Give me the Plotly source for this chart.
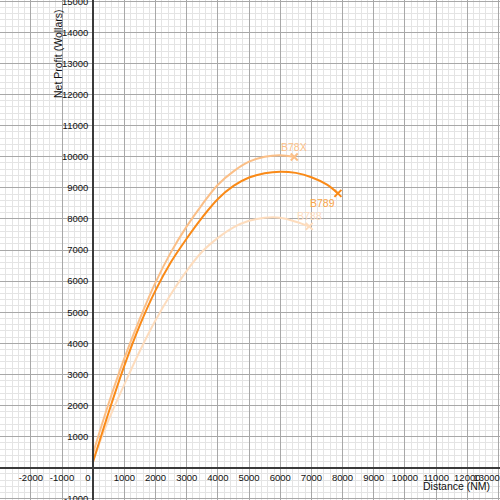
import plotly.graph_objects as go

# Distance (NM) and net profit (Wollars)
b789_x = [0, 500, 1000, 1500, 2000, 2500, 3000, 3500, 4000, 4500, 5000, 5500, 6000, 6500, 7000, 7500, 7850]
b789_y = [200, 1790, 3280, 4590, 5700, 6620, 7370, 8050, 8640, 9060, 9330, 9470, 9520, 9480, 9340, 9100, 8820]

b78x_x = [0, 500, 1000, 1500, 2000, 2500, 3000, 3500, 4000, 4500, 5000, 5500, 6000, 6450]
b78x_y = [480, 2080, 3520, 4800, 5960, 6940, 7760, 8470, 9100, 9530, 9840, 10000, 10050, 9990]

b788_x = [0, 500, 1000, 1500, 2000, 2500, 3000, 3500, 4000, 4500, 5000, 5500, 6000, 6500, 6930]
b788_y = [250, 1550, 2680, 3760, 4740, 5590, 6330, 6950, 7390, 7730, 7940, 8040, 8040, 7910, 7760]

series_names = ["B78X", "B789", "B788"]

NB = "\u00a0"
x_tick_vals = [-2000, -1000, 0, 1000, 2000, 3000, 4000, 5000, 6000, 7000, 8000, 9000, 10000, 11000, 12000, 13000]
x_tick_text = ["-2000", "-1000", "0" + NB * 4, "1000", "2000", "3000", "4000", "5000", "6000",
               "7000", "8000", "9000", "10000", "11000", "12000", "13000" + NB * 9]
y_tick_vals = [-1000, 1000, 2000, 3000, 4000, 5000, 6000, 7000, 8000, 9000, 10000,
               11000, 12000, 13000, 14000, 15000]
y_tick_text = [str(v) for v in y_tick_vals]

x_range = [-2990, 13050]
y_range = [-1040, 15040]

colors = {"B78X": "#FBBF87", "B789": "#FA8A17", "B788": "#FDDCBD"}
label_colors = {"B78X": "#FBBF87", "B789": "#F9A449", "B788": "#FDDCBD"}

data = {"B78X": (b78x_x, b78x_y), "B789": (b789_x, b789_y), "B788": (b788_x, b788_y)}

fig = go.Figure()
for name in ["B788", "B78X", "B789"]:
    xs, ys = data[name]
    fig.add_trace(go.Scatter(x=xs, y=ys, mode="lines", name=name,
                             line=dict(color=colors[name], width=2, shape="spline", smoothing=1.0),
                             hoverinfo="skip"))
    fig.add_trace(go.Scatter(x=[xs[-1]], y=[ys[-1]], mode="markers", name=name,
                             marker=dict(symbol="x-thin", size=7,
                                         line=dict(width=2, color=colors[name])),
                             hoverinfo="skip"))

label_offsets = {"B78X": dict(xanchor="center", xshift=0, yshift=10),
                 "B789": dict(xanchor="right", xshift=-1, yshift=-10),
                 "B788": dict(xanchor="center", xshift=0, yshift=10)}
for name in series_names:
    xs, ys = data[name]
    off = label_offsets[name]
    fig.add_annotation(x=xs[-1], y=ys[-1], xref="x", yref="y", text=name, showarrow=False,
                       xanchor=off["xanchor"], yanchor="middle", xshift=off["xshift"], yshift=off["yshift"],
                       font=dict(family="Liberation Sans, Arial, sans-serif", size=10.5,
                                 color=label_colors[name]))

x_pos = (0 - y_range[0]) / (y_range[1] - y_range[0])
y_pos = (0 - x_range[0]) / (x_range[1] - x_range[0])

tick_font = dict(family="Liberation Sans, Arial, sans-serif", size=9.5, color="#111111")

fig.update_layout(
    width=500, height=500,
    margin=dict(l=0, r=0, t=0, b=0),
    paper_bgcolor="white", plot_bgcolor="white",
    showlegend=False,
    xaxis=dict(range=x_range, anchor="free", position=x_pos,
               tickmode="array", tickvals=x_tick_vals, ticktext=x_tick_text,
               tickfont=tick_font, ticks="", ticklabelstandoff=1, tickangle=0,
               showgrid=True, gridcolor="#A8A8A8", gridwidth=1,
               minor=dict(tickmode="linear", tick0=0, dtick=200, showgrid=True,
                          gridcolor="#E4E4E4", gridwidth=1, ticks=""),
               showline=True, linecolor="#3A3A3A", linewidth=2,
               zeroline=False, automargin=False, ticklabeloverflow="allow"),
    yaxis=dict(range=y_range, anchor="free", position=y_pos,
               tickmode="array", tickvals=y_tick_vals, ticktext=y_tick_text,
               tickfont=tick_font, ticks="", ticklabelstandoff=2, tickangle=0,
               showgrid=True, gridcolor="#A8A8A8", gridwidth=1,
               minor=dict(tickmode="linear", tick0=0, dtick=200, showgrid=True,
                          gridcolor="#E4E4E4", gridwidth=1, ticks=""),
               showline=True, linecolor="#3A3A3A", linewidth=2,
               zeroline=False, automargin=False, ticklabeloverflow="allow"),
)

title_font = dict(family="Liberation Sans, Arial, sans-serif", size=10.5, color="#111111")
fig.add_annotation(x=456.7 / 500, y=1 - 486 / 500, xref="paper", yref="paper",
                   text="Distance (NM)", showarrow=False, xanchor="center", yanchor="middle",
                   font=title_font)
fig.add_annotation(x=58 / 500, y=1 - 54 / 500, xref="paper", yref="paper",
                   text="Net Profit (Wollars)", showarrow=False, textangle=-90,
                   xanchor="center", yanchor="middle", font=title_font)

fig.write_html("out.html", config={"displayModeBar": False},
               post_script="document.body.style.margin='0';document.body.style.overflow='hidden';")
